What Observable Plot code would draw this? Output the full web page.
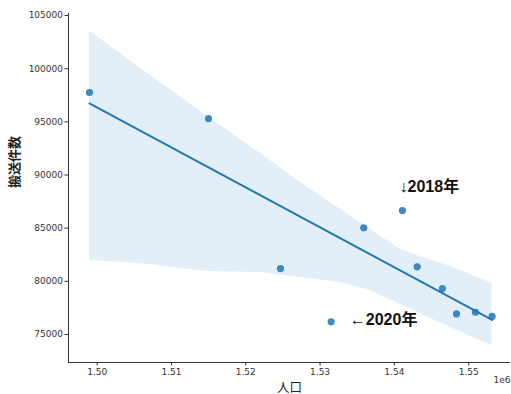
<!DOCTYPE html>
<html>
<head>
<meta charset="utf-8">
<script src="https://cdn.jsdelivr.net/npm/d3@7"></script>
<script src="https://cdn.jsdelivr.net/npm/@observablehq/plot@0.6"></script>
<style>
  html, body { margin: 0; padding: 0; background: #fff; }
  #chart svg { display: block; }
</style>
</head>
<body>
<div id="chart"></div>
<script>
// Data
const population = [1498960, 1514980, 1524670, 1531490, 1535880, 1541090, 1543070, 1546470, 1548360, 1550910, 1553160];
const transports = [97760, 95310, 81200, 76190, 85030, 86660, 81360, 79320, 76940, 77090, 76710];
// Confidence band (bootstrap 95% CI) edges
const bandX = [1498960, 1505830, 1514850, 1521980, 1527360, 1532750, 1536790, 1540820, 1543500, 1547550, 1553160];
const bandUpper = [103540, 100050, 95500, 92020, 89290, 86750, 84870, 83000, 82300, 81390, 79800];
const bandLower = [81960, 81680, 80920, 80830, 80360, 79890, 79140, 77820, 76960, 75660, 73960];
const xTicks = [1500000, 1510000, 1520000, 1530000, 1540000, 1550000];
const yTicks = [75000, 80000, 85000, 90000, 95000, 100000, 105000];
const annotationLabels = ["↓2018年", "←2020年"];
const annotationX = [1540700, 1534000];
const annotationY = [88400, 75900];
const xDomain = [1496140, 1555630];
const yDomain = [72365, 105190];

const data = population.map((p, i) => ({population: p, transports: transports[i]}));
const band = bandX.map((x, i) => ({x, y1: bandLower[i], y2: bandUpper[i]}));
const notes = annotationLabels.map((t, i) => ({text: t, x: annotationX[i], y: annotationY[i]}));

const blue = "#1f77b4";
const tickFont = "DejaVu Sans, sans-serif";
const cjk = "'Liberation Sans', 'Noto Sans CJK JP', sans-serif";

const chart = Plot.plot({
  width: 511,
  height: 394,
  marginLeft: 68,
  marginRight: 1,
  marginTop: 13,
  marginBottom: 32,
  style: {fontFamily: tickFont, background: "#fff"},
  x: {domain: xDomain},
  y: {domain: yDomain},
  marks: [
    Plot.areaY(band, {x: "x", y1: "y1", y2: "y2", fill: "#3a8fd0", fillOpacity: 0.15, curve: "linear"}),
    Plot.linearRegressionY(data, {
      x: "population", y: "transports",
      stroke: blue, strokeWidth: 2, ci: 0
    }),
    Plot.dot(data, {x: "population", y: "transports", r: 3.6, fill: blue, fillOpacity: 0.85, stroke: "none"}),
    Plot.ruleX([xDomain[0]], {stroke: "#333", strokeWidth: 1}),
    Plot.ruleY([yDomain[0]], {stroke: "#333", strokeWidth: 1}),
    Plot.axisX({
      ticks: xTicks, tickSize: 3.5, tickPadding: 3, fontSize: 9, color: "#333",
      tickFormat: d => (d / 1e6).toFixed(2), label: null
    }),
    Plot.axisY({
      ticks: yTicks, tickSize: 3.5, tickPadding: 2, fontSize: 9, color: "#333",
      tickFormat: d => String(d), label: null
    }),
    Plot.text(["人口"], {frameAnchor: "bottom", lineAnchor: "bottom", dy: 29, fontSize: 12.5, fill: "#222", fontFamily: "'Noto Sans CJK JP', sans-serif"}),
    Plot.text(["搬送件数"], {frameAnchor: "left", dx: -54, rotate: -90, fontSize: 13, fontWeight: "bold", fill: "#222", fontFamily: "'Noto Sans CJK JP', sans-serif"}),
    Plot.text(["1e6"], {frameAnchor: "bottom-right", textAnchor: "end", lineAnchor: "bottom", dy: 20, fontSize: 9, fill: "#333"}),
    Plot.text(notes, {x: "x", y: "y", text: "text", textAnchor: "start", lineAnchor: "bottom", fontSize: 16, fontWeight: "bold", fill: "#111", fontFamily: cjk})
  ]
});
document.getElementById("chart").appendChild(chart);
</script>
</body>
</html>
